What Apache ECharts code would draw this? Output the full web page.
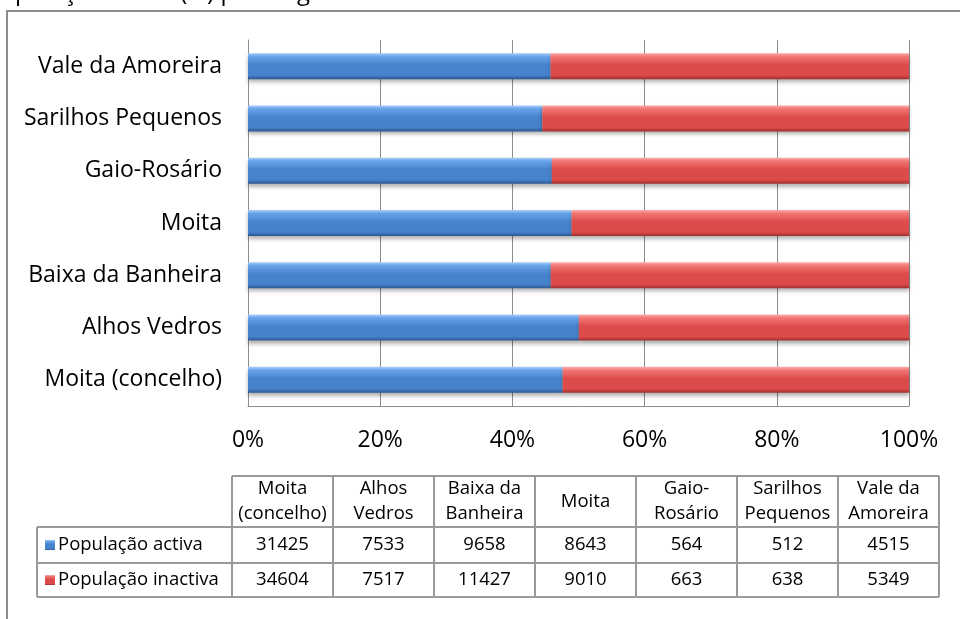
<!DOCTYPE html>
<html>
<head>
<meta charset="utf-8">
<script src="https://cdn.jsdelivr.net/npm/echarts@6/dist/echarts.min.js"></script>
<style>
    html, body { margin: 0; padding: 0; background: #fff; }
    #chart { width: 960px; height: 619px; }
</style>
</head>
<body>
<div id="chart"></div>
<script>
// dados por freguesia (ordem da tabela)
const freguesias = ['Moita (concelho)', 'Alhos Vedros', 'Baixa da Banheira', 'Moita', 'Gaio-Rosário', 'Sarilhos Pequenos', 'Vale da Amoreira'];
const cabecalhos = ['Moita\n(concelho)', 'Alhos\nVedros', 'Baixa da\nBanheira', 'Moita', 'Gaio-\nRosário', 'Sarilhos\nPequenos', 'Vale da\nAmoreira'];
const activa = [31425, 7533, 9658, 8643, 564, 512, 4515];
const inactiva = [34604, 7517, 11427, 9010, 663, 638, 5349];
const serieNomes = ['População activa', 'População inactiva'];
const xTicks = ['0%', '20%', '40%', '60%', '80%', '100%'];

const FONT = '"Open Sans", "Noto Sans", sans-serif';

// percentagens (100% empilhado)
const totais = activa.map((v, i) => v + inactiva[i]);
const pctActiva = activa.map((v, i) => v / totais[i] * 100);
const pctInactiva = inactiva.map((v, i) => v / totais[i] * 100);

const grad = (top, light, mid, bottom) => new echarts.graphic.LinearGradient(0, 0, 0, 1, [
    { offset: 0, color: top },
    { offset: 0.12, color: light },
    { offset: 0.45, color: mid },
    { offset: 0.85, color: mid },
    { offset: 1, color: bottom }
]);
const azul = grad('#a9d0fa', '#6aa5ea', '#4783cd', '#2a5690');
const vermelho = grad('#fbb0ae', '#f27876', '#dc4b49', '#a02e2e');

/*
* tabela de dados por baixo do gráfico
*/
const tabela = [];
const x0 = 232, colW = 101, legX = 37;
const rows = [476, 527, 563, 597];
const linha = { stroke: '#9a9a9a', lineWidth: 2 };
const nCols = freguesias.length;
const xEnd = x0 + colW * nCols;
const fonteTabela = '18.5px ' + FONT;

// linhas horizontais
tabela.push({ type: 'line', shape: { x1: x0, y1: rows[0], x2: xEnd, y2: rows[0] }, style: linha });
for (let r = 1; r < rows.length; r++) {
    tabela.push({ type: 'line', shape: { x1: legX, y1: rows[r], x2: xEnd, y2: rows[r] }, style: linha });
}
// linhas verticais
tabela.push({ type: 'line', shape: { x1: legX, y1: rows[1], x2: legX, y2: rows[3] }, style: linha });
for (let c = 0; c <= nCols; c++) {
    tabela.push({ type: 'line', shape: { x1: x0 + c * colW, y1: rows[0], x2: x0 + c * colW, y2: rows[3] }, style: linha });
}
// cabeçalhos
cabecalhos.forEach((t, c) => {
    tabela.push({
        type: 'text', x: x0 + c * colW + colW / 2, y: (rows[0] + rows[1]) / 2,
        style: { text: t, font: fonteTabela, fill: '#000', align: 'center', verticalAlign: 'middle', lineHeight: 25 }
    });
});
// linhas de valores
[activa, inactiva].forEach((vals, r) => {
    const yc = (rows[r + 1] + rows[r + 2]) / 2;
    tabela.push({
        type: 'rect', shape: { x: legX + 8, y: yc - 5, width: 10, height: 10 },
        style: { fill: r === 0 ? azul : vermelho }
    });
    tabela.push({
        type: 'text', x: legX + 21, y: yc,
        style: { text: serieNomes[r], font: fonteTabela, fill: '#000', align: 'left', verticalAlign: 'middle' }
    });
    vals.forEach((v, c) => {
        tabela.push({
            type: 'text', x: x0 + c * colW + colW / 2, y: yc,
            style: { text: String(v), font: fonteTabela, fill: '#000', align: 'center', verticalAlign: 'middle' }
        });
    });
});

const chart = echarts.init(document.getElementById('chart'), null, { renderer: 'canvas' });
const options = {
    animation: false,
    backgroundColor: '#fff',
    grid: { left: 248, right: 51, top: 40, bottom: 213, containLabel: false },
    xAxis: {
        type: 'value', min: 0, max: 100, interval: 20,
        axisLine: { show: true, lineStyle: { color: '#8c8c8c', width: 1 } },
        axisTick: { show: false },
        splitLine: { show: true, lineStyle: { color: '#8c8c8c', width: 1 } },
        axisLabel: {
            margin: 23, fontFamily: FONT, fontSize: 23, color: '#000',
            formatter: v => xTicks[Math.round(v / 20)]
        }
    },
    yAxis: {
        type: 'category', data: freguesias,
        axisLine: { show: true, lineStyle: { color: '#8c8c8c', width: 1 } },
        axisTick: { show: false },
        axisLabel: { margin: 26, fontFamily: FONT, fontSize: 23, color: '#000' }
    },
    series: [
        {
            name: serieNomes[0], type: 'bar', stack: 'total', barWidth: 26,
            data: pctActiva,
            itemStyle: { color: azul, shadowColor: 'rgba(0,0,0,0.3)', shadowBlur: 4, shadowOffsetY: 3 }
        },
        {
            name: serieNomes[1], type: 'bar', stack: 'total', barWidth: 26,
            data: pctInactiva,
            itemStyle: { color: vermelho, shadowColor: 'rgba(0,0,0,0.3)', shadowBlur: 4, shadowOffsetY: 3 }
        }
    ],
    graphic: [
        // título cortado no topo
        {
            type: 'text', x: -14, y: -7,
            style: { text: 'População activa (%) por freguesia', font: '24px ' + FONT, fill: '#000', verticalAlign: 'middle' }
        },
        // moldura da área do gráfico
        {
            type: 'rect', shape: { x: 7, y: 11, width: 1100, height: 800 },
            style: { fill: 'none', stroke: '#8c8c8c', lineWidth: 2 }
        },
        ...tabela
    ]
};
chart.setOption(options);
window.addEventListener('resize', chart.resize);
</script>
</body>
</html>
